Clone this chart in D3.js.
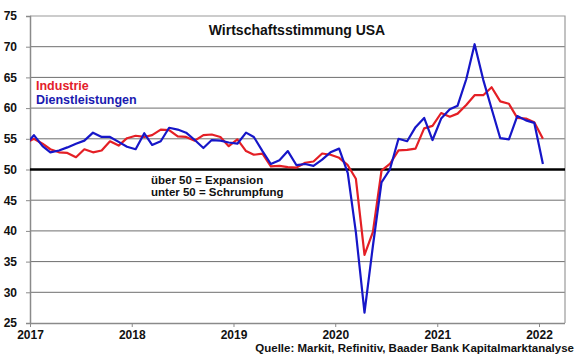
<!DOCTYPE html>
<html>
<head>
<meta charset="utf-8">
<script src="https://cdn.jsdelivr.net/npm/d3@7"></script>
<style>
  body { margin: 0; background: #fff; }
  svg { display: block; font-family: "Liberation Sans", Arial, sans-serif; font-weight: bold; }
</style>
</head>
<body>
<svg id="chart" width="580" height="359"></svg>
<script>
// monthly values, first month Dec 2016, last Jan 2022
const firstMonth = [2016, 11];
const industrie = [54.3,
  55.0, 54.2, 53.3, 52.8, 52.7, 52.0, 53.3, 52.8, 53.1, 54.6, 53.9, 55.1,
  55.5, 55.3, 55.6, 56.5, 56.4, 55.4, 55.3, 54.7, 55.6, 55.7, 55.3, 53.8,
  54.9, 53.0, 52.4, 52.6, 50.5, 50.6, 50.4, 50.3, 51.1, 51.3, 52.6, 52.4,
  51.9, 50.7, 48.5, 36.1, 39.8, 49.8, 50.9, 53.1, 53.2, 53.4, 56.7, 57.1,
  59.2, 58.6, 59.1, 60.5, 62.1, 62.1, 63.4, 61.1, 60.7, 58.4, 58.3, 57.7,
  55.0];
const dienstleistungen = [53.9,
  55.6, 53.8, 52.8, 53.1, 53.6, 54.2, 54.7, 56.0, 55.3, 55.3, 54.5, 53.7,
  53.3, 55.9, 54.0, 54.6, 56.8, 56.5, 56.0, 54.8, 53.5, 54.8, 54.7, 54.4,
  54.2, 56.0, 55.3, 53.0, 50.9, 51.5, 53.0, 50.7, 50.9, 50.6, 51.6, 52.8,
  53.4, 49.4, 39.8, 26.7, 37.5, 47.9, 50.0, 55.0, 54.6, 56.9, 58.4, 54.8,
  58.3, 59.8, 60.4, 64.7, 70.4, 64.6, 59.9, 55.1, 54.9, 58.7, 58.0, 57.6,
  50.9];
const yearTicks = [2017, 2018, 2019, 2020, 2021, 2022];
const valueTicks = [25, 30, 35, 40, 45, 50, 55, 60, 65, 70, 75];

const svg = d3.select('#chart');
const plot = { left: 30, right: 565, top: 16, bottom: 323 };

// points sit in the middle of their month
const dates = industrie.map((d, i) => new Date(firstMonth[0], firstMonth[1] + i, 15));

const x = d3.scaleTime()
  .domain([new Date(2017, 0, 1), new Date(2022, 0, 1)])
  .range([plot.left, 539]);
const y = d3.scaleLinear()
  .domain([25, 75])
  .range([plot.bottom, plot.top]);

// gridlines
svg.append('g')
  .selectAll('line')
  .data(valueTicks.filter(v => v !== 50 && v !== 25 && v !== 75))
  .enter()
  .append('line')
  .attr('x1', plot.left).attr('x2', plot.right)
  .attr('y1', d => y(d)).attr('y2', d => y(d))
  .attr('stroke', '#6e6e6e')
  .attr('stroke-width', 1);

// frame top / right
svg.append('path')
  .attr('d', `M${plot.left},${y(75)}H${plot.right}V${plot.bottom}`)
  .attr('fill', 'none')
  .attr('stroke', '#9a9a9a')
  .attr('stroke-width', 1.2);

// y axis
const yAxis = svg.append('g')
  .attr('transform', `translate(${plot.left},0)`)
  .call(d3.axisLeft(y).tickValues(valueTicks).tickSize(4).tickPadding(9));
yAxis.select('.domain').attr('stroke', '#8a8a8a').attr('stroke-width', 1.5);
yAxis.selectAll('line').attr('stroke', '#8a8a8a');
yAxis.selectAll('text')
  .attr('font-size', 12).attr('font-weight', 'bold')
  .attr('font-family', '"Liberation Sans", Arial, sans-serif').attr('fill', '#111');

// x axis
const xAxis = svg.append('g')
  .attr('transform', `translate(0,${plot.bottom})`)
  .call(d3.axisBottom(x)
    .tickValues(yearTicks.map(yr => new Date(yr, 0, 1)))
    .tickFormat(d3.timeFormat('%Y'))
    .tickSize(4).tickSizeOuter(0).tickPadding(3));
xAxis.select('.domain').attr('d', `M${plot.left},0.5H${plot.right}`).attr('stroke', '#8a8a8a').attr('stroke-width', 1.5);
xAxis.selectAll('line').attr('stroke', '#8a8a8a');
xAxis.selectAll('text')
  .attr('font-size', 12).attr('font-weight', 'bold')
  .attr('font-family', '"Liberation Sans", Arial, sans-serif').attr('fill', '#111');

// 50 line
svg.append('line')
  .attr('x1', plot.left).attr('x2', plot.right)
  .attr('y1', y(50)).attr('y2', y(50))
  .attr('stroke', '#000')
  .attr('stroke-width', 2.6);

svg.append('clipPath').attr('id', 'plotclip')
  .append('rect')
  .attr('x', plot.left).attr('y', plot.top)
  .attr('width', plot.right - plot.left).attr('height', plot.bottom - plot.top);

const line = d3.line()
  .x(d => x(d.date))
  .y(d => y(d.value));

const series = [
  { values: industrie, color: '#e41f25' },
  { values: dienstleistungen, color: '#1616c8' }
];

svg.append('g')
  .attr('clip-path', 'url(#plotclip)')
  .selectAll('path')
  .data(series)
  .enter()
  .append('path')
  .attr('d', s => line(s.values.map((v, i) => ({ date: dates[i], value: v }))))
  .attr('fill', 'none')
  .attr('stroke', s => s.color)
  .attr('stroke-width', 2.2)
  .attr('stroke-linejoin', 'round');

// title
svg.append('text')
  .attr('x', 297).attr('y', 35)
  .attr('text-anchor', 'middle')
  .attr('font-size', 14)
  .attr('fill', '#111')
  .text('Wirtschaftsstimmung USA');

// legend
svg.append('text').attr('x', 36).attr('y', 90)
  .attr('font-size', 12.5).attr('fill', '#e3202a').text('Industrie');
svg.append('text').attr('x', 36).attr('y', 104)
  .attr('font-size', 12.5).attr('fill', '#1a1ab0').text('Dienstleistungen');

// notes
svg.append('text').attr('x', 151).attr('y', 184)
  .attr('font-size', 11.5).attr('fill', '#111').text('über 50 = Expansion');
svg.append('text').attr('x', 151).attr('y', 196)
  .attr('font-size', 11.5).attr('fill', '#111').text('unter 50 = Schrumpfung');

svg.append('text').attr('x', 574).attr('y', 352)
  .attr('text-anchor', 'end')
  .attr('font-size', 11.5).attr('fill', '#111')
  .text('Quelle: Markit, Refinitiv, Baader Bank Kapitalmarktanalyse');
</script>
</body>
</html>
